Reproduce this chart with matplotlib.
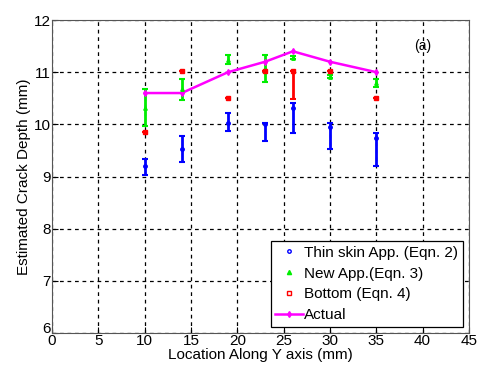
import matplotlib
matplotlib.use("Agg")
import matplotlib.pyplot as plt
import matplotlib.transforms as mtransforms
from matplotlib.lines import Line2D
import numpy as np

plt.rcParams['font.family'] = ['Liberation Sans', 'DejaVu Sans']

# positions along Y axis (mm)
loc = [10, 14, 19, 23, 26, 30, 35]

# thin skin approach (Eqn. 2): value, lower err, upper err
thin = [9.21, 9.52, 10.02, 10.00, 10.31, 9.94, 9.73]
thin_lo = [0.18, 0.25, 0.15, 0.32, 0.48, 0.42, 0.52]
thin_hi = [0.12, 0.26, 0.19, 0.02, 0.09, 0.08, 0.10]

# new approach (Eqn. 3)
new = [10.31, 10.67, 11.23, 11.07, 11.28, 10.91, 10.80]
new_lo = [0.34, 0.20, 0.08, 0.25, 0.03, 0.03, 0.08]
new_hi = [0.36, 0.20, 0.09, 0.25, 0.03, 0.03, 0.07]

# bottom (Eqn. 4)
bottom = [9.86, 11.02, 10.50, 11.02, 11.02, 11.02, 10.50]
bottom_lo = [0.0, 0.0, 0.0, 0.0, 0.54, 0.0, 0.0]
bottom_hi = [0.0, 0.0, 0.0, 0.0, 0.0, 0.0, 0.0]

# actual crack depth
actual = [10.6, 10.6, 11.0, 11.2, 11.4, 11.2, 11.0]

labels = ['Thin skin App. (Eqn. 2)', 'New App.(Eqn. 3)', 'Bottom (Eqn. 4)', 'Actual']

fig = plt.figure(figsize=(4.79, 3.67), dpi=100)
ax = fig.add_axes([0.1086, 0.0926, 0.8704, 0.8529])

ax.errorbar(loc, thin, yerr=[thin_lo, thin_hi], fmt='o', color='blue',
            ms=2.5, elinewidth=2, capsize=2.5, capthick=1.5)
ax.errorbar(loc, new, yerr=[new_lo, new_hi], fmt='^', color='#00ee00',
            ms=2.5, elinewidth=2, capsize=2.5, capthick=1.5)
ax.errorbar(loc, bottom, yerr=[bottom_lo, bottom_hi], fmt='s', color='red',
            ms=3, elinewidth=2, capsize=2.5, capthick=1.5)
ax.plot(loc, actual, color='magenta', marker='d', ms=3, lw=1.8)

ax.set_xlim(0, 45)
ax.set_ylim(6, 12)
ax.set_xticks(np.arange(0, 46, 5))
ax.set_yticks(np.arange(6, 13, 1))
ax.grid(True, color='black', linestyle=(0, (3, 3)), linewidth=0.9)
ax.tick_params(direction='in', labelsize=11, length=4, pad=1)
# lift the "6" so it does not sit on the "0"
lab6 = ax.yaxis.get_major_ticks()[0].label1
lab6.set_transform(lab6.get_transform() +
                   mtransforms.ScaledTranslation(0, 6 / 100, fig.dpi_scale_trans))
for s in ax.spines.values():
    s.set_color('#555555')

ax.set_xlabel('Location Along Y axis (mm)', fontsize=11, labelpad=0)
ax.set_ylabel('Estimated Crack Depth (mm)', fontsize=11, labelpad=2)
ax.text(40, 11.5, '(a)', fontsize=10, ha='center', va='center')

handles = [
    Line2D([], [], ls='none', marker='o', ms=2.5, color='blue', mfc='none'),
    Line2D([], [], ls='none', marker='^', ms=3, color='#00ee00'),
    Line2D([], [], ls='none', marker='s', ms=3, color='red', mfc='none'),
    Line2D([], [], color='magenta', marker='d', ms=3, lw=1.8),
]
leg = ax.legend(handles, labels, loc='lower right', fontsize=11, fancybox=False,
                edgecolor='black', framealpha=1, handlelength=1.8,
                handletextpad=0.1, borderpad=0.3, labelspacing=0.45,
                borderaxespad=0.4)
leg.get_frame().set_linewidth(0.9)

fig.savefig('out.png', dpi=100)
